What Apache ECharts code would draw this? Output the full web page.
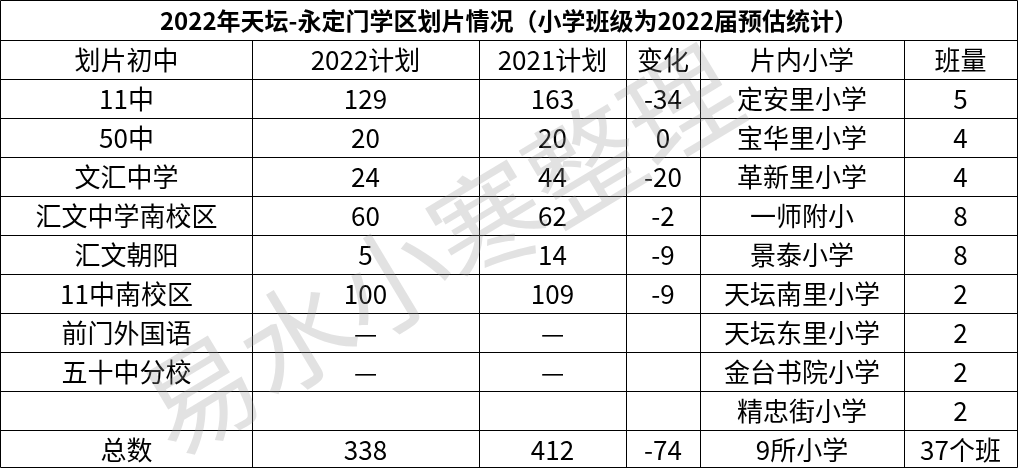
<!DOCTYPE html>
<html><head><meta charset="utf-8">
<script src="https://cdn.jsdelivr.net/npm/echarts@6/dist/echarts.min.js"></script>
<style>html,body{margin:0;padding:0;background:#fff}#main{width:1018px;height:469px}</style>
</head><body><div id="main"></div>
<script>
var title = '2022年天坛-永定门学区划片情况（小学班级为2022届预估统计）';
var headers = ['划片初中', '2022计划', '2021计划', '变化', '片内小学', '班量'];
var schools = ['11中', '50中', '文汇中学', '汇文中学南校区', '汇文朝阳', '11中南校区', '前门外国语', '五十中分校', '', '总数'];
var plan2022 = ['129', '20', '24', '60', '5', '100', '—', '—', '', '338'];
var plan2021 = ['163', '20', '44', '62', '14', '109', '—', '—', '', '412'];
var change = ['-34', '0', '-20', '-2', '-9', '-9', '', '', '', '-74'];
var primary = ['定安里小学', '宝华里小学', '革新里小学', '一师附小', '景泰小学', '天坛南里小学', '天坛东里小学', '金台书院小学', '精忠街小学', '9所小学'];
var classes = ['5', '4', '4', '8', '8', '2', '2', '2', '2', '37个班'];

var colX = [1, 252, 479, 626, 700, 904, 1017];
var titleH = 40, rowH = 39;
var font = '"Noto Sans CJK SC", sans-serif';
var g = [];

function cell(text, c, r) {
    var x0 = colX[c], x1 = colX[c + 1];
    var y0 = titleH + r * rowH;
    g.push({type: 'text', x: (x0 + x1) / 2, y: y0 + rowH / 2 + 1,
        style: {text: text, fill: '#000', font: '26px ' + font, textAlign: 'center', textVerticalAlign: 'middle'}});
}
g.push({type: 'text', x: 509, y: 21,
    style: {text: title, fill: '#000', font: 'bold 24px ' + font, textAlign: 'center', textVerticalAlign: 'middle'}});
headers.forEach(function (h, c) { cell(h, c, 0); });
var cols = [schools, plan2022, plan2021, change, primary, classes];
cols.forEach(function (arr, c) {
    arr.forEach(function (v, i) { cell(v, c, i + 1); });
});
// grid lines
var bottom = 468;
g.push({type: 'rect', shape: {x: 0.5, y: 0.5, width: 1017, height: 467}, style: {fill: 'none', stroke: '#000', lineWidth: 1}});
for (var r = 0; r <= 10; r++) {
    var y = titleH + r * rowH + 0.5;
    g.push({type: 'line', shape: {x1: 0, y1: y, x2: 1018, y2: y}, style: {stroke: '#000', lineWidth: 1}});
}
colX.slice(1, -1).forEach(function (x) {
    g.push({type: 'line', shape: {x1: x + 0.5, y1: titleH, x2: x + 0.5, y2: bottom}, style: {stroke: '#000', lineWidth: 1}});
});
// watermark
g.push({type: 'text', x: 440, y: 250, rotation: 31 * Math.PI / 180, z: 10,
    style: {text: '易水小寒整理', fill: 'rgba(150,150,150,0.28)', font: '112px ' + font, textAlign: 'center', textVerticalAlign: 'middle'}});

var chart = echarts.init(document.getElementById('main'));
chart.setOption({backgroundColor: '#fff', graphic: g});
</script></body></html>
